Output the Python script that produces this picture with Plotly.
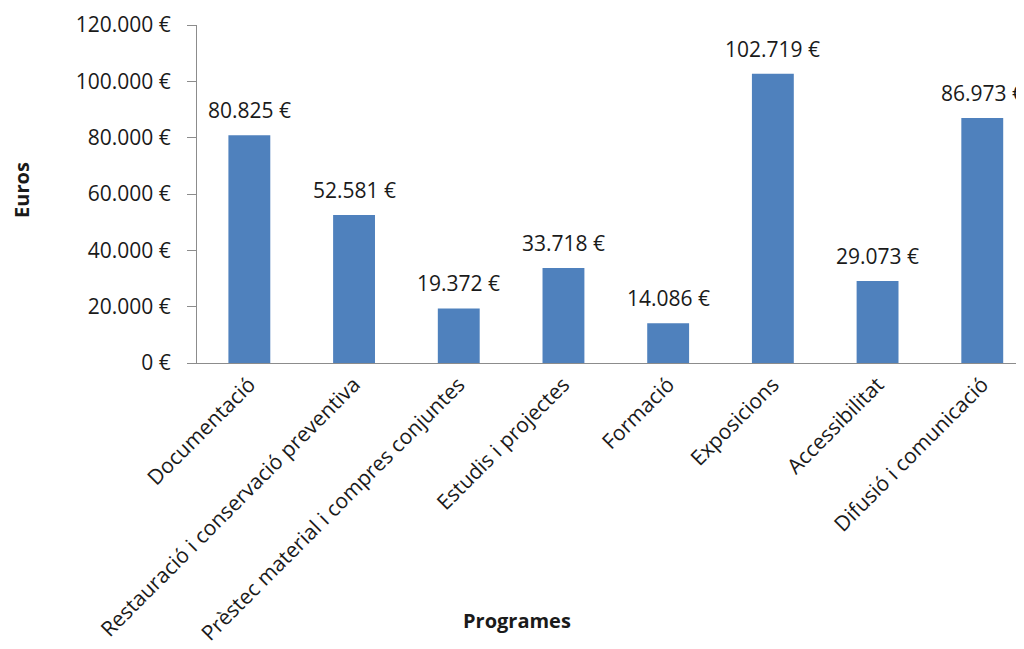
import plotly.graph_objects as go

categories = [
    "Documentació",
    "Restauració i conservació preventiva",
    "Prèstec material i compres conjuntes",
    "Estudis i projectes",
    "Formació",
    "Exposicions",
    "Accessibilitat",
    "Difusió i comunicació",
]
values = [80825, 52581, 19372, 33718, 14086, 102719, 29073, 86973]
y_ticks = [0, 20000, 40000, 60000, 80000, 100000, 120000]

FONT = "Open Sans"
FS = 21
BAR_COLOR = "#4F81BD"
TXT = "#1a1a1a"

fig = go.Figure()
fig.add_trace(go.Bar(
    x=list(range(len(categories))),
    y=values,
    marker=dict(color=BAR_COLOR, line=dict(width=0)),
    width=0.4,
    hoverinfo="skip",
))

for i, v in enumerate(values):
    fig.add_annotation(
        x=i, y=v, xref="x", yref="y",
        text=f"{v:,} €".replace(",", "."),
        showarrow=False, xanchor="center", yanchor="bottom", yshift=9,
        font=dict(family=FONT, size=FS, color=TXT),
    )

fig.add_annotation(
    x=0.383, y=-0.763, xref="paper", yref="paper",
    text="<b>Programes</b>", showarrow=False,
    xanchor="center", yanchor="middle",
    font=dict(family=FONT, size=20, color=TXT),
)
fig.add_annotation(
    x=-0.2096, y=0.512, xref="paper", yref="paper",
    text="<b>Euros</b>", showarrow=False, textangle=-90,
    xanchor="center", yanchor="middle",
    font=dict(family=FONT, size=20, color=TXT),
)

fig.update_layout(
    width=1024, height=649,
    margin=dict(l=189, r=0, t=17, b=294, autoexpand=False),
    paper_bgcolor="white", plot_bgcolor="white",
    separators=",.",
    showlegend=False,
    font=dict(family=FONT, size=FS, color=TXT),
)
fig.update_xaxes(
    tickmode="array",
    tickvals=list(range(len(categories))),
    ticktext=categories,
    tickangle=-45,
    range=[-0.5, 7.475],
    showline=True, linecolor="#8c8c8c", linewidth=1,
    ticks="", showgrid=False, zeroline=False,
    automargin=False,
    tickfont=dict(family=FONT, size=FS, color=TXT),
)
fig.update_yaxes(
    range=[0, 120000],
    tickmode="array",
    tickvals=y_ticks,
    ticktext=[f"{t:,} €".replace(",", ".") for t in y_ticks],
    showline=True, linecolor="#8c8c8c", linewidth=1,
    ticks="outside", ticklen=9, tickcolor="#8c8c8c",
    ticklabelstandoff=12,
    showgrid=False, zeroline=False,
    automargin=False,
    tickfont=dict(family=FONT, size=FS, color=TXT),
)

fig.write_html("out.html")
